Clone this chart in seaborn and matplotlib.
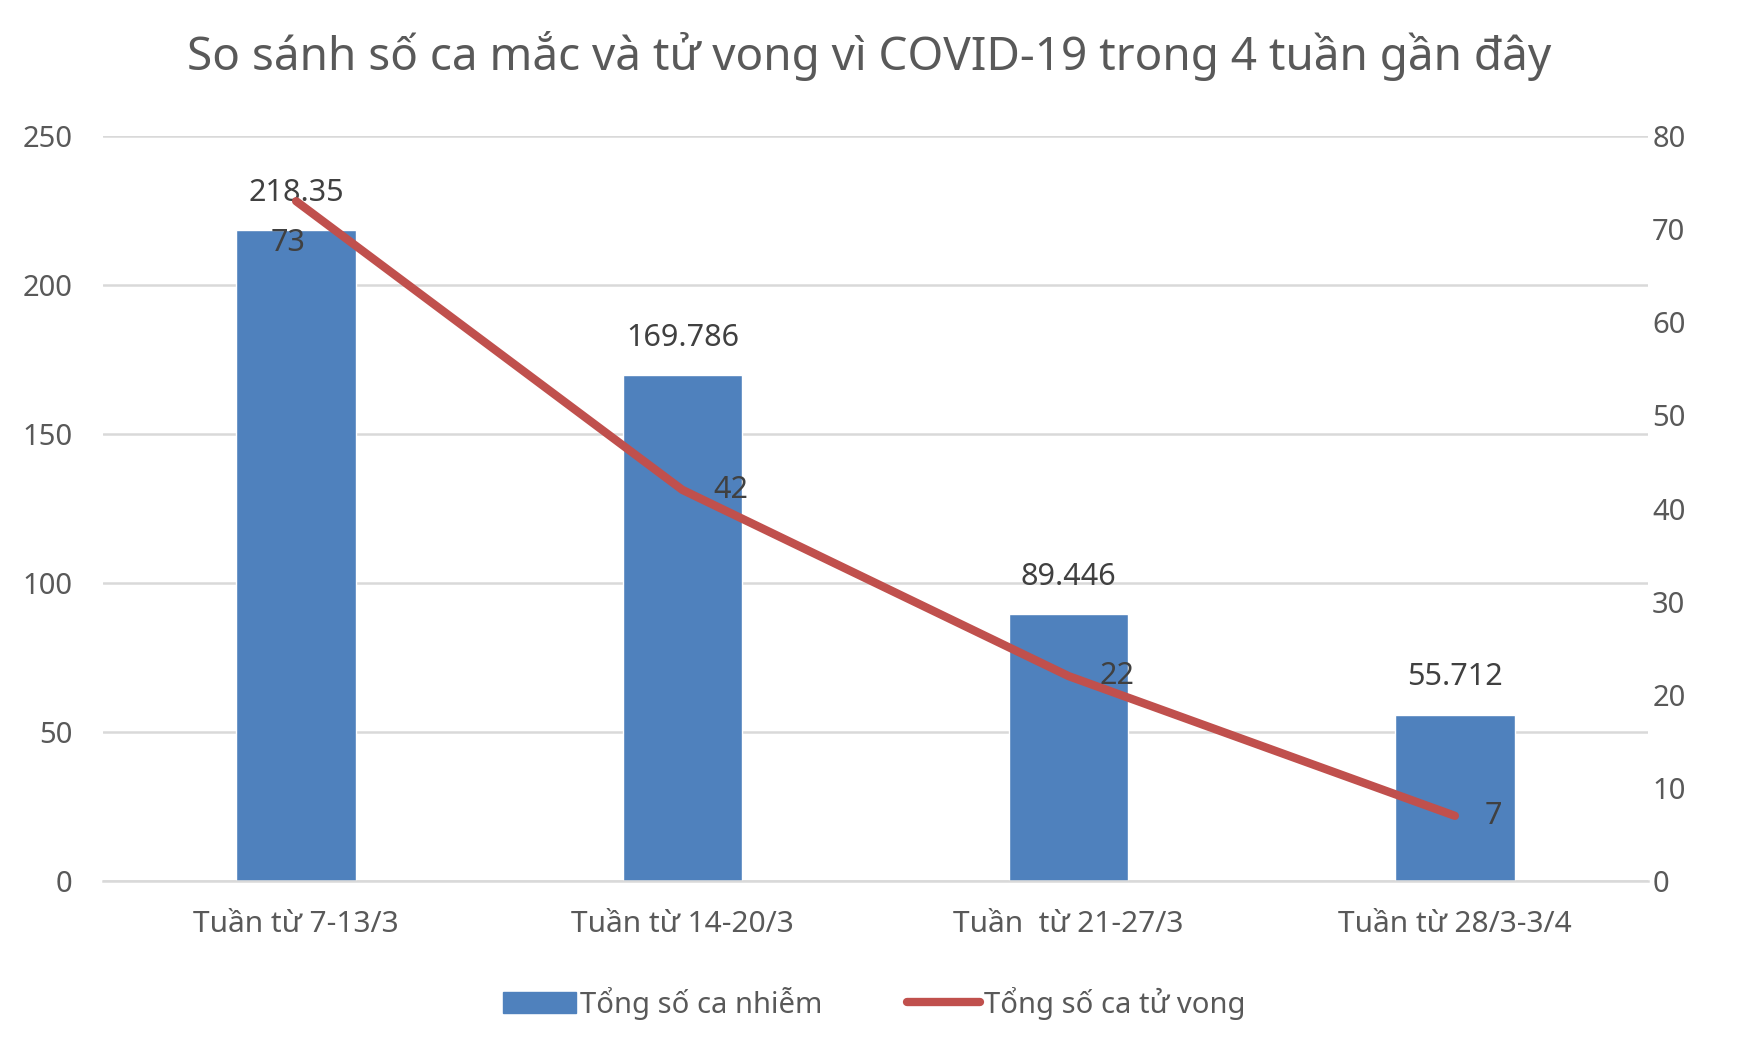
import numpy as np
import pandas as pd
import matplotlib
matplotlib.use("Agg")
import matplotlib.pyplot as plt
import seaborn as sns
from matplotlib.patches import Patch
from matplotlib.lines import Line2D

categories = ["Tuần từ 7-13/3", "Tuần từ 14-20/3", "Tuần  từ 21-27/3", "Tuần từ 28/3-3/4"]
cases = [218.35, 169.786, 89.446, 55.712]
case_labels = ["218.35", "169.786", "89.446", "55.712"]
deaths = [73, 42, 22, 7]
death_labels = ["73", "42", "22", "7"]
left_ticks = [0, 50, 100, 150, 200, 250]
right_ticks = [0, 10, 20, 30, 40, 50, 60, 70, 80]
title = "So sánh số ca mắc và tử vong vì COVID-19 trong 4 tuần gần đây"
legend_labels = ["Tổng số ca nhiễm", "Tổng số ca tử vong"]

BAR = "#4F81BD"
LINE = "#C0504D"
TXT = "#595959"
LBL = "#404040"
GRID = "#D9D9D9"

sns.set_theme(style="white")
plt.rcParams["font.family"] = ["Noto Sans", "DejaVu Sans"]

fig = plt.figure(figsize=(17.38, 10.53), dpi=100)
ax = fig.add_axes([103/1738, 1 - 881/1053, (1648-103)/1738, (881-136)/1053])

df = pd.DataFrame({"cat": categories, "cases": cases, "deaths": deaths, "pos": np.arange(len(categories))})
sns.barplot(data=df, x="cat", y="cases", color=BAR, width=0.31, saturation=1, ax=ax)
ax.set_xlim(-0.5, len(categories) - 0.5)
ax.set_ylim(0, 250)
ax.set_yticks(left_ticks)
ax.yaxis.grid(True, color=GRID, linewidth=1.8)
ax.set_axisbelow(True)
for s in ["top", "right", "left"]:
    ax.spines[s].set_visible(False)
ax.spines["bottom"].set_color(GRID)
ax.spines["bottom"].set_linewidth(1.8)
ax.set_xlabel("")
ax.set_ylabel("")
ax.tick_params(axis="y", labelsize=21, colors=TXT, length=0, pad=22)
ax.tick_params(axis="x", labelsize=21.5, colors=TXT, length=0, pad=21)

ax2 = ax.twinx()
sns.lineplot(data=df, x="pos", y="deaths", color=LINE, linewidth=6, ax=ax2, solid_capstyle="round")
ax2.set_ylim(0, 80)
ax2.set_yticks(right_ticks)
ax2.set_xlim(-0.5, len(categories) - 0.5)
for s in ["top", "right", "left", "bottom"]:
    ax2.spines[s].set_visible(False)
ax2.set_ylabel("")
ax2.set_xlabel("")
ax2.grid(False)
ax2.tick_params(axis="y", labelsize=21, colors=TXT, length=0, pad=3)

# bar labels
for i, (v, t) in enumerate(zip(cases, case_labels)):
    ax.annotate(t, (i, v), xytext=(0, 27), textcoords="offset points", ha="center", va="center",
                fontsize=22, color=LBL)
# line labels
offs = [(-6, -30), (35, 0), (35, 0), (28, 0)]
for i, (v, t) in enumerate(zip(deaths, death_labels)):
    ax2.annotate(t, (i, v), xytext=offs[i], textcoords="offset points", ha="center", va="center",
                 fontsize=22, color=LBL)

fig.suptitle(title, x=0.5, y=1 - 56/1053, va="center", fontsize=33, color=TXT)

handles = [Patch(facecolor=BAR, edgecolor=BAR),
           Line2D([0], [0], color=LINE, linewidth=6, solid_capstyle="round")]
fig.legend(handles, legend_labels, loc="center", bbox_to_anchor=(0.503, 1 - 1003/1053), ncol=2,
           frameon=False, fontsize=21, labelcolor=TXT, handlelength=2.5, handletextpad=0.15,
           columnspacing=2.9)

fig.savefig("out.png", dpi=100)
